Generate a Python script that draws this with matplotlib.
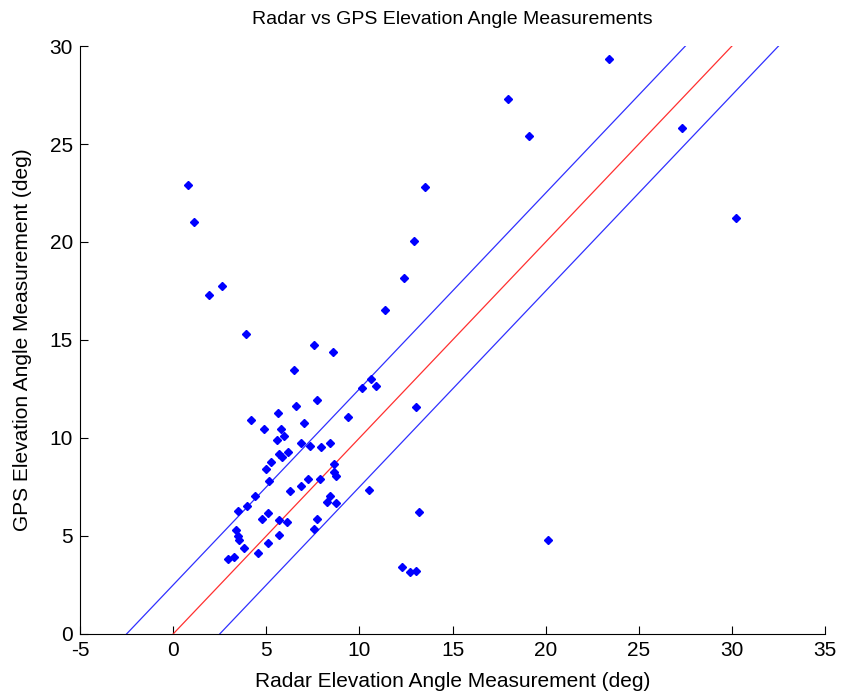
import numpy as np
import matplotlib.pyplot as plt

plt.rcParams['font.family'] = ['Liberation Sans', 'DejaVu Sans']
plt.rcParams['axes.unicode_minus'] = False

# radar vs gps elevation angle (deg)
radar = [0.8, 1.1, 1.9, 2.6, 3.9,
         23.4, 18.0, 19.1, 27.3, 30.2,
         13.5, 12.95, 12.4, 11.35,
         13.05, 13.2, 20.15,
         12.27, 12.72, 13.06,
         7.57, 8.57, 10.63, 10.16, 10.9, 7.71, 7.03, 9.41,
         6.87, 7.34, 7.96, 8.41, 8.63, 8.64, 8.73, 7.87,
         7.26, 6.87, 10.49, 8.41, 8.25, 8.73, 7.73, 7.57,
         6.49, 6.57, 5.64, 4.17, 4.87, 5.78, 5.96, 5.55,
         6.17, 5.71, 5.83, 5.24, 5.01, 5.17, 6.26, 4.42,
         3.95, 3.47, 5.12, 4.78, 5.71, 6.1, 3.4, 3.49,
         3.54, 3.78, 5.71, 5.1, 4.56, 3.26, 2.95]
gps = [22.9, 21.0, 17.3, 17.75, 15.3,
       29.35, 27.3, 25.4, 25.8, 21.2,
       22.8, 20.05, 18.15, 16.55,
       11.6, 6.22, 4.8,
       3.4, 3.15, 3.23,
       14.73, 14.37, 13.0, 12.53, 12.67, 11.96, 10.77, 11.07,
       9.73, 9.61, 9.52, 9.73, 8.66, 8.28, 8.06, 7.91,
       7.91, 7.55, 7.33, 7.04, 6.75, 6.67, 5.85, 5.34,
       13.47, 11.65, 11.29, 10.92, 10.48, 10.48, 10.12, 9.9,
       9.3, 9.17, 9.03, 8.79, 8.44, 7.82, 7.31, 7.04,
       6.55, 6.29, 6.16, 5.87, 5.8, 5.71, 5.29, 5.02,
       4.8, 4.39, 5.05, 4.63, 4.12, 3.95, 3.81]

ideal = np.array([0, 30])
tol = 2.5

fig = plt.figure(figsize=(8.41, 6.97), dpi=100)
ax = fig.add_axes([0.0951, 0.0904, 0.886, 0.8436])

ax.plot(ideal, ideal, color='#ff3030', lw=0.9)
ax.plot(ideal - tol, ideal, color='#3030ff', lw=0.9)
ax.plot(ideal + tol, ideal, color='#3030ff', lw=0.9)
ax.plot(radar, gps, 'D', color='blue', ms=3.8, mec='blue')

ax.set_xlim(-5, 35)
ax.set_ylim(0, 30)
ax.set_xticks(np.arange(-5, 36, 5))
ax.set_yticks(np.arange(0, 31, 5))
ax.tick_params(direction='in', length=6, labelsize=15, colors='black', pad=5)
ax.spines['top'].set_visible(False)
ax.spines['right'].set_visible(False)

ax.set_title('Radar vs GPS Elevation Angle Measurements', fontsize=14, pad=16)
ax.set_xlabel('Radar Elevation Angle Measurement (deg)', fontsize=15, labelpad=9)
ax.set_ylabel('GPS Elevation Angle Measurement (deg)', fontsize=15, labelpad=13)

fig.savefig('out.png', dpi=100)
